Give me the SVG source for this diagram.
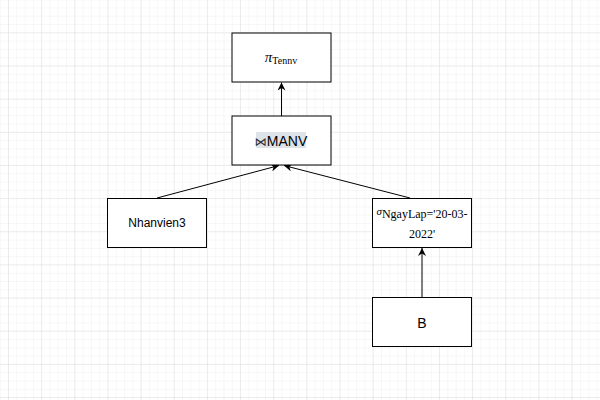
<svg xmlns="http://www.w3.org/2000/svg" width="600" height="400" viewBox="0 0 600 400">
<defs>
<pattern id="minor" x="8" y="-0.8" width="8.29" height="8.29" patternUnits="userSpaceOnUse">
<path d="M0 0H8.29M0 0V8.29" fill="none" stroke="#f0f0f0" stroke-width="1"/>
</pattern>
<pattern id="major" x="8" y="-0.8" width="33.15" height="33.15" patternUnits="userSpaceOnUse">
<path d="M0 0H33.15M0 0V33.15" fill="none" stroke="#e0e0e0" stroke-width="1"/>
</pattern>
<marker id="arr" viewBox="0 0 10 10" refX="10" refY="5" markerWidth="8" markerHeight="8" orient="auto" markerUnits="userSpaceOnUse">
<path d="M0 0L10 5L0 10L3 5Z" fill="#000"/>
</marker>
<style>
.box{fill:#fff;stroke:#000;stroke-width:1}
.edge{fill:none;stroke:#000;stroke-width:1;marker-end:url(#arr)}
.sans{font-family:"Liberation Sans",Arial,sans-serif;fill:#000}
.serif{font-family:"Liberation Serif","Times New Roman",serif;fill:#000}
</style>
</defs>
<rect width="600" height="400" fill="#fff"/>
<rect width="600" height="400" fill="url(#minor)"/>
<rect width="600" height="400" fill="url(#major)"/>
<g id="connectors">
<path class="edge" d="M281.5 116V82.5"/>
<path class="edge" d="M157 198L279 165.5"/>
<path class="edge" d="M410 198L284 165.5"/>
<path class="edge" d="M422 297V248"/>
</g>
<g id="project">
<rect class="box" x="232" y="33" width="99" height="49"/>
<text class="serif" x="281" y="62" text-anchor="middle"><tspan font-size="15" font-style="italic">π</tspan><tspan font-size="10" dy="2">Tennv</tspan></text>
</g>
<g id="join">
<rect class="box" x="232" y="116" width="99" height="49"/>
<rect x="256" y="132" width="50" height="16" fill="#dee3ea"/>
<text class="sans" x="281" y="145.5" font-size="14" text-anchor="middle"><tspan font-family="'DejaVu Sans',sans-serif" font-size="12" fill="#333">⋈</tspan>MANV</text>
</g>
<g id="nhanvien3">
<rect class="box" x="107.5" y="198.5" width="99" height="49"/>
<text class="sans" x="157" y="227" font-size="12" text-anchor="middle">Nhanvien3</text>
</g>
<g id="select">
<rect class="box" x="372.5" y="198.5" width="99" height="49"/>
<text class="serif" x="422" y="218" font-size="12" text-anchor="middle"><tspan font-size="11" font-style="italic" dy="-3">σ</tspan><tspan dy="3">NgayLap='20-03-</tspan></text>
<text class="serif" x="422" y="237.5" font-size="12" text-anchor="middle">2022'</text>
</g>
<g id="b">
<rect class="box" x="372.5" y="297.5" width="99" height="49"/>
<text class="sans" x="422" y="327.5" font-size="14" text-anchor="middle">B</text>
</g>
</svg>
